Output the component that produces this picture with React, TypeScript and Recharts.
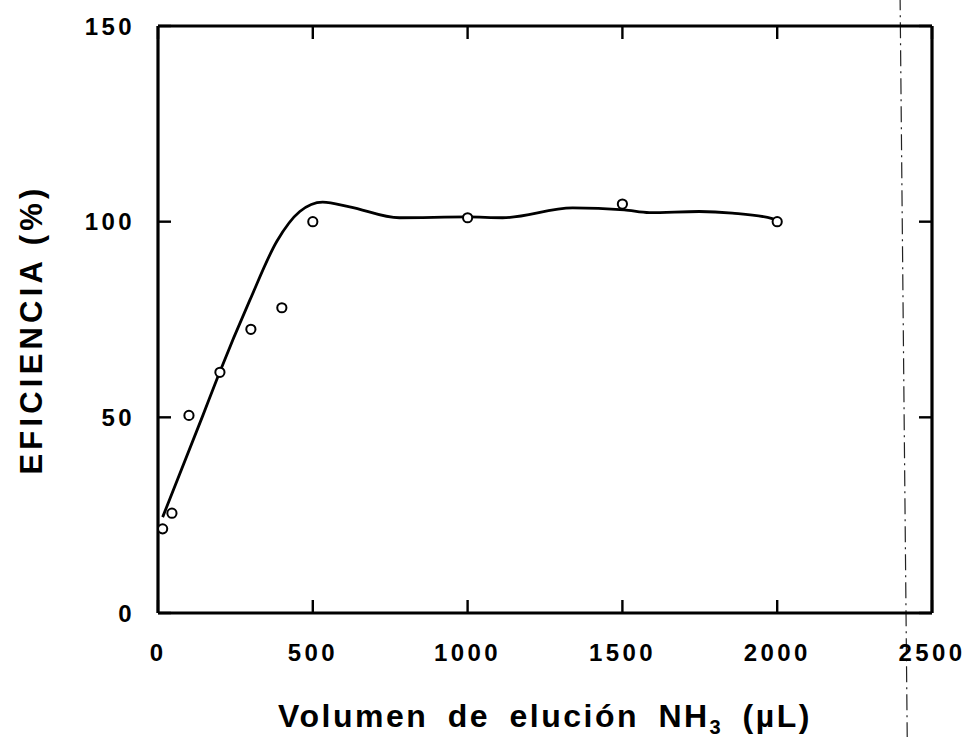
import React from "react";
import {
  ComposedChart,
  XAxis,
  YAxis,
  Line,
  Scatter,
  ReferenceLine,
} from "recharts";

// measured points (volume in µL, efficiency in %)
const volumes = [15, 45, 100, 200, 300, 400, 500, 1000, 1500, 2000];
const efficiency = [21.5, 25.5, 50.5, 61.5, 72.5, 78, 100, 101, 104.5, 100];

// hand drawn fit curve
const fitVolumes = [
  15, 145, 194, 297, 384, 458, 532, 619, 780, 1000, 1113, 1339, 1506, 1587,
  1748, 1855, 1984, 2000,
];
const fitEfficiency = [
  24.5, 50.5, 60.5, 80, 95, 102.6, 105, 103.8, 101, 101.2, 101, 103.5, 103,
  102.3, 102.6, 102.2, 100.8, 100,
];

const xTicks = [0, 500, 1000, 1500, 2000, 2500];
const yTicks = [0, 50, 100, 150];

// dash-dot fold mark of the scanned page
const foldTop = 2397;
const foldBottom = 2420;

const points = volumes.map((v, i) => ({ v, e: efficiency[i] }));
const fit = fitVolumes.map((v, i) => ({ v, e: fitEfficiency[i] }));

const font = '"Liberation Sans", Arial, Helvetica, sans-serif';
const TICK = 13;
const tickStroke = "#000";
const tickWidth = 2.4;

const labelStyle = {
  fontFamily: font,
  fontWeight: "bold" as const,
  fontSize: 24,
  letterSpacing: 3.4,
  fill: "#000",
};

// tick mark drawn inward + label outside; x/y is the point on the axis line
function BottomTick({ x, y, payload }: any) {
  return (
    <g>
      <line x1={x} x2={x} y1={y} y2={y - TICK} stroke={tickStroke} strokeWidth={tickWidth} />
      <text x={x} y={y + 31} dy="0.71em" textAnchor="middle" {...labelStyle}>
        {payload.value}
      </text>
    </g>
  );
}

function LeftTick({ x, y, payload }: any) {
  return (
    <g>
      <line x1={x} x2={x + TICK} y1={y} y2={y} stroke={tickStroke} strokeWidth={tickWidth} />
      <text x={x - 23} y={y} dy="0.36em" textAnchor="end" {...labelStyle}>
        {payload.value}
      </text>
    </g>
  );
}

function TopTick({ x, y }: any) {
  return <line x1={x} x2={x} y1={y} y2={y + TICK} stroke={tickStroke} strokeWidth={tickWidth} />;
}

function RightTick({ x, y }: any) {
  return <line x1={x} x2={x - TICK} y1={y} y2={y} stroke={tickStroke} strokeWidth={tickWidth} />;
}

function XTitle({ viewBox }: any) {
  const cx = viewBox.x + viewBox.width / 2;
  const y = viewBox.y + 114;
  return (
    <text
      x={cx}
      y={y}
      textAnchor="middle"
      fontFamily={font}
      fontWeight="bold"
      fontSize={32}
      letterSpacing={2.5}
      wordSpacing={8}
      fill="#000"
    >
      Volumen de elución NH
      <tspan fontSize={20} dy={7}>
        3
      </tspan>
      <tspan dy={-7}>{" (µL)"}</tspan>
    </text>
  );
}

function YTitle({ viewBox }: any) {
  const cx = 31;
  const cy = viewBox.y + viewBox.height / 2 + 10;
  return (
    <text
      x={cx}
      y={cy}
      transform={`rotate(-90 ${cx} ${cy})`}
      textAnchor="middle"
      dominantBaseline="central"
      fontFamily={font}
      fontWeight="bold"
      fontSize={31}
      letterSpacing={4.2}
      fill="#000"
    >
      EFICIENCIA (%)
    </text>
  );
}

const Dot = (p: any) => (
  <circle cx={p.cx} cy={p.cy} r={4.6} fill="#fff" stroke="#000" strokeWidth={2} />
);

const axisLine = { stroke: "#000", strokeWidth: 3.2 };

export default function App() {
  return (
    <div style={{ position: "absolute", left: 0, top: 0, background: "#fff" }}>
      <ComposedChart
        width={968}
        height={737}
        margin={{ top: 25, right: 35, bottom: 0, left: 0 }}
      >
        <XAxis
          type="number"
          dataKey="v"
          domain={[0, 2500]}
          ticks={xTicks}
          height={124}
          tickSize={0}
          tickMargin={0}
          tickLine={false}
          axisLine={axisLine}
          tick={<BottomTick />}
          label={(props: any) => <XTitle {...props} />}
        />
        <XAxis
          xAxisId="top"
          orientation="top"
          type="number"
          dataKey="v"
          domain={[0, 2500]}
          ticks={xTicks}
          height={1}
          tickSize={0}
          tickMargin={0}
          tickLine={false}
          axisLine={axisLine}
          tick={<TopTick />}
        />
        <YAxis
          type="number"
          dataKey="e"
          domain={[0, 150]}
          ticks={yTicks}
          width={158}
          tickSize={0}
          tickMargin={0}
          tickLine={false}
          axisLine={axisLine}
          tick={<LeftTick />}
          label={(props: any) => <YTitle {...props} />}
        />
        <YAxis
          yAxisId="right"
          orientation="right"
          type="number"
          dataKey="e"
          domain={[0, 150]}
          ticks={yTicks}
          width={1}
          tickSize={0}
          tickMargin={0}
          tickLine={false}
          axisLine={axisLine}
          tick={<RightTick />}
        />
        <ReferenceLine
          segment={[
            { x: foldBottom, y: -32 },
            { x: foldTop, y: 157 },
          ]}
          ifOverflow="visible"
          stroke="#222"
          strokeWidth={1.2}
          strokeDasharray="16 5 2 5"
        />
        {/* invisible copy so the top / right frame axes get a domain and ticks */}
        <Line
          xAxisId="top"
          yAxisId="right"
          data={fit}
          dataKey="e"
          stroke="none"
          dot={false}
          activeDot={false}
          legendType="none"
          isAnimationActive={false}
        />
        <Line
          data={fit}
          dataKey="e"
          type="monotone"
          stroke="#000"
          strokeWidth={2.8}
          dot={false}
          activeDot={false}
          isAnimationActive={false}
        />
        <Scatter
          data={points}
          dataKey="e"
          shape={Dot}
          isAnimationActive={false}
        />
      </ComposedChart>
    </div>
  );
}
